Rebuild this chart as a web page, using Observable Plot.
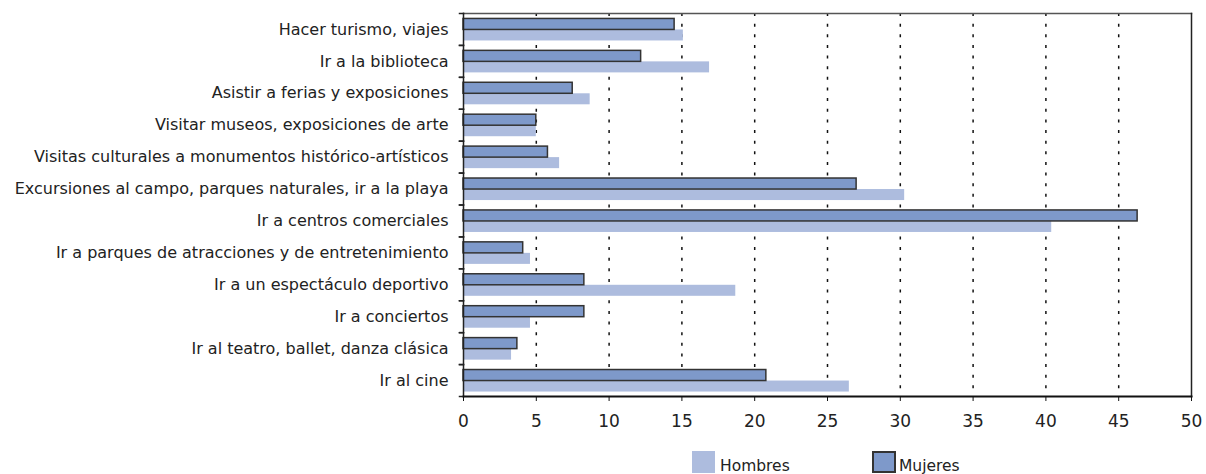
<!DOCTYPE html>
<html>
<head>
<meta charset="utf-8">
<script src="https://cdn.jsdelivr.net/npm/d3@7"></script>
<script src="https://cdn.jsdelivr.net/npm/@observablehq/plot@0.6"></script>
<style>
  html, body { margin: 0; padding: 0; background: white; }
  #chart svg { display: block; }
  #legend { position: relative; height: 23px; font-family: "DejaVu Sans"; font-size: 15.5px; color: #222; }
  #legend .sw { position: absolute; top: 0; height: 22px; box-sizing: border-box; }
  #legend .lb { position: absolute; top: 4px; line-height: 22px; white-space: nowrap; }
</style>
</head>
<body>
<div id="chart"></div>
<div id="legend"></div>
<script>
const categories = [
  "Hacer turismo, viajes",
  "Ir a la biblioteca",
  "Asistir a ferias y exposiciones",
  "Visitar museos, exposiciones de arte",
  "Visitas culturales a monumentos histórico-artísticos",
  "Excursiones al campo, parques naturales, ir a la playa",
  "Ir a centros comerciales",
  "Ir a parques de atracciones y de entretenimiento",
  "Ir a un espectáculo deportivo",
  "Ir a conciertos",
  "Ir al teatro, ballet, danza clásica",
  "Ir al cine"
];
const series = ["Mujeres", "Hombres"];
const mujeres = [14.5, 12.2, 7.5, 5.0, 5.8, 27.0, 46.3, 4.1, 8.3, 8.3, 3.7, 20.8];
const hombres = [15.1, 16.9, 8.7, 5.0, 6.6, 30.3, 40.4, 4.6, 18.7, 4.6, 3.3, 26.5];
const xTicks = [0, 5, 10, 15, 20, 25, 30, 35, 40, 45, 50];
const legendOrder = ["Hombres", "Mujeres"];

const colors = {Mujeres: "#7e99ca", Hombres: "#adbcde"};

const rowsM = categories.map((c, i) => ({cat: c, serie: "Mujeres", value: mujeres[i]}));
const rowsH = categories.map((c, i) => ({cat: c, serie: "Hombres", value: hombres[i]}));
const gridValues = xTicks.filter(v => v > xTicks[0] && v < xTicks[xTicks.length - 1]);

const W = 1206, ML = 463, MR = 15;
const plotW = W - ML - MR;

const chart = Plot.plot({
  width: W,
  height: 451,
  marginLeft: ML,
  marginRight: MR,
  marginTop: 13,
  marginBottom: 55,
  facet: {marginTop: 0, marginBottom: 0, marginLeft: 0, marginRight: 0},
  style: {fontFamily: "DejaVu Sans", fontSize: "16px", color: "#222", background: "white"},
  x: {domain: [xTicks[0], xTicks[xTicks.length - 1]]},
  y: {domain: series, paddingInner: 0, paddingOuter: 0.449, align: 0.55, round: false, axis: null},
  fy: {domain: categories, padding: 0, round: false, label: null},
  marks: [
    Plot.ruleX(gridValues, {x: d => d, stroke: "#111", strokeWidth: 1.5, strokeDasharray: "3,7.63"}),
    Plot.barX(rowsH, {x: "value", y: "serie", fy: "cat", fill: colors.Hombres}),
    Plot.barX(rowsM, {x: "value", y: "serie", fy: "cat", fill: colors.Mujeres, stroke: "#333", strokeWidth: 1.5}),
    Plot.frame({facet: "super", anchor: "top", stroke: "#555", strokeWidth: 1.5}),
    Plot.frame({facet: "super", anchor: "right", stroke: "#222", strokeWidth: 1.5, strokeDasharray: "4,1"}),
    Plot.frame({facet: "super", anchor: "left", stroke: "#222", strokeWidth: 1.5}),
    Plot.frame({facet: "super", anchor: "bottom", stroke: "#111", strokeWidth: 2}),
    Plot.frame({anchor: "top", insetLeft: -4, insetRight: plotW, stroke: "#222", strokeWidth: 1.5}),
    Plot.frame({anchor: "bottom", insetLeft: -4, insetRight: plotW, stroke: "#222", strokeWidth: 1.5}),
    Plot.axisFy({anchor: "left", tickSize: 0, tickPadding: 15, fontSize: 16, label: null}),
    Plot.axisX({ticks: xTicks, tickSize: 5, tickPadding: 13, fontSize: 17, label: null, stroke: "#111"})
  ]
});
document.getElementById("chart").appendChild(chart);

const legend = document.getElementById("legend");
const legendPos = {Hombres: {sw: 692, lb: 720}, Mujeres: {sw: 872, lb: 899}};
legendOrder.forEach(s => {
  const sw = document.createElement("span");
  sw.className = "sw";
  sw.style.left = legendPos[s].sw + "px";
  sw.style.width = (s === "Mujeres" ? 24 : 23) + "px";
  sw.style.background = colors[s];
  if (s === "Mujeres") sw.style.border = "2px solid #333";
  legend.appendChild(sw);
  const lb = document.createElement("span");
  lb.className = "lb";
  lb.style.left = legendPos[s].lb + "px";
  lb.textContent = s;
  legend.appendChild(lb);
});
</script>
</body>
</html>
